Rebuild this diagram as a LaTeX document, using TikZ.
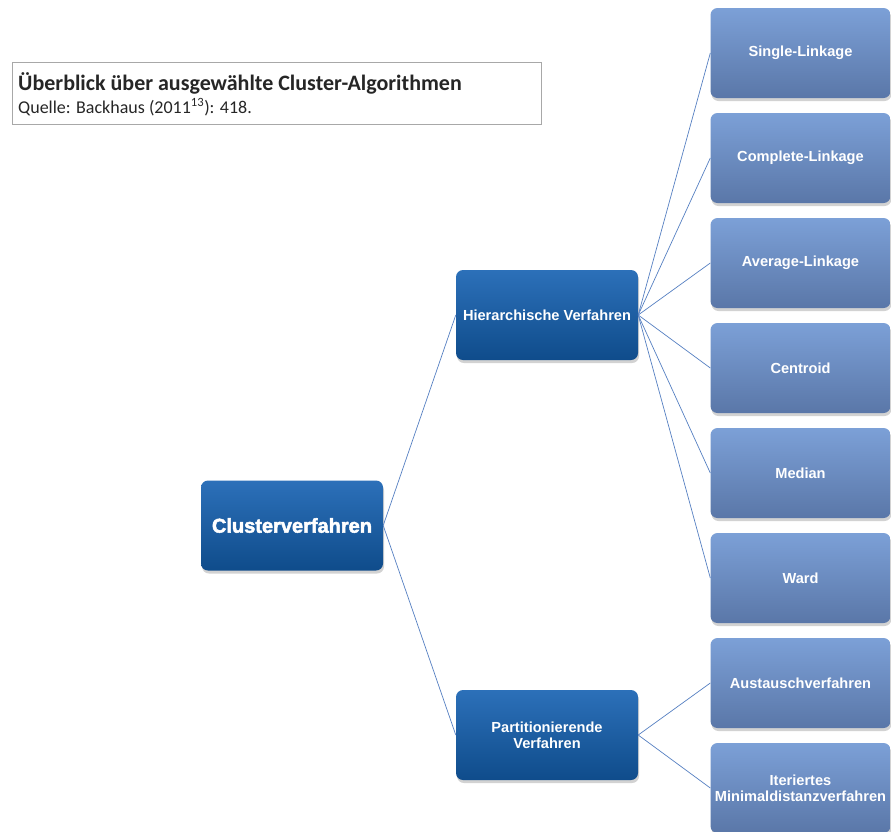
\documentclass[tikz,border=0pt]{standalone}
\usepackage{fontspec}
\setmainfont{Liberation Sans}
\newfontfamily\titlefont{Carlito}
\newfontfamily\heavyfont[FakeBold=2.5]{Liberation Sans Bold}
\usetikzlibrary{shadows}
\definecolor{rootTop}{HTML}{2C70B9}
\definecolor{rootBot}{HTML}{0F4C8B}
\definecolor{leafTop}{HTML}{7CA0D7}
\definecolor{leafBot}{HTML}{5A77A8}
\definecolor{linkCol}{HTML}{5680C2}
\definecolor{frameCol}{HTML}{A8A8A8}
\tikzset{
  basebox/.style={rounded corners=7pt, minimum height=90pt, inner sep=0pt, align=center,
    text=white, font=\bfseries\fontsize{14.6}{16}\selectfont,
    drop shadow={opacity=0.35, shadow xshift=1pt, shadow yshift=-3pt}},
  mainbox/.style={basebox, top color=rootTop, bottom color=rootBot, minimum width=182pt},
  leafbox/.style={basebox, top color=leafTop, bottom color=leafBot, minimum width=180pt},
  link/.style={draw=linkCol, line width=0.7pt}
}
\begin{document}
\begin{tikzpicture}[x=1pt,y=-1pt]
\useasboundingbox (0,0) rectangle (891,831);
\fill[white] (0,0) rectangle (891,831);
% title frame
\node[draw=frameCol, line width=0.8pt, minimum width=529pt, minimum height=62pt, inner sep=0pt, anchor=north west] (frame) at (12,62) {};
\node[anchor=base west, inner sep=0pt, font=\titlefont\bfseries\fontsize{22}{24}\selectfont, text=black!85] (title) at (18,90) {Überblick über ausgewählte Cluster-Algorithmen};
\node[anchor=base west, inner sep=0pt, font=\titlefont\fontsize{18}{20}\selectfont, text=black!85] (source) at (18,113) {Quelle: Backhaus (2011\textsuperscript{13}): 418.};
% nodes
\node[mainbox, font=\heavyfont\fontsize{20}{22}\selectfont] (root) at (292,525.5) {Clusterverfahren};
\node[mainbox] (hier) at (547,315) {Hierarchische Verfahren};
\node[mainbox] (part) at (547,735) {Partitionierende\\Verfahren};
\node[leafbox] (l1) at (800.5,53) {Single-Linkage};
\node[leafbox] (l2) at (800.5,158) {Complete-Linkage};
\node[leafbox] (l3) at (800.5,263) {Average-Linkage};
\node[leafbox] (l4) at (800.5,368) {Centroid};
\node[leafbox] (l5) at (800.5,473) {Median};
\node[leafbox] (l6) at (800.5,578) {Ward};
\node[leafbox] (l7) at (800.5,683) {Austauschverfahren};
\node[leafbox] (l8) at (800.5,788) {Iteriertes\\Minimaldistanzverfahren};
% links
\draw[link] (root.east) -- (hier.west);
\draw[link] (root.east) -- (part.west);
\foreach \n in {l1,l2,l3,l4,l5,l6}{\draw[link] (hier.east) -- (\n.west);}
\draw[link] (part.east) -- (l7.west);
\draw[link] (part.east) -- (l8.west);
\end{tikzpicture}
\end{document}
